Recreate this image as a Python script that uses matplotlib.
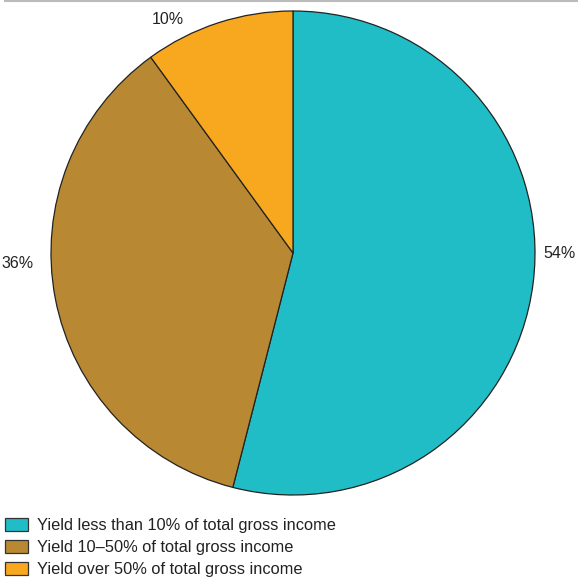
import matplotlib.pyplot as plt
from matplotlib.patches import Patch
from matplotlib.lines import Line2D

plt.rcParams['font.family'] = ['Liberation Sans', 'DejaVu Sans']

shares = [54, 36, 10]
pct_labels = ['54%', '36%', '10%']
legend_labels = ['Yield less than 10% of total gross income',
                 'Yield 10\u201350% of total gross income',
                 'Yield over 50% of total gross income']
colors = ['#21BDC6', '#B98833', '#F8A81E']

W, H = 578, 583
fig = plt.figure(figsize=(W / 100, H / 100), dpi=100)
ax = fig.add_axes([0, 0, 1, 1])

cx, cy, r = 293, H - 253, 242
wedges, _ = ax.pie(shares, colors=colors, startangle=90, counterclock=False,
                   center=(cx, cy), radius=r, frame=True,
                   wedgeprops=dict(edgecolor='#222222', linewidth=0.9))
ax.set_xlim(0, W)
ax.set_ylim(0, H)
ax.set_aspect('auto')
ax.axis('off')

# percentage labels placed around the pie
label_pos = [(559, H - 253), (18, H - 263), (168, H - 20)]
for txt, (x, y) in zip(pct_labels, label_pos):
    ax.text(x, y, txt, ha='center', va='center', fontsize=11.5, color='#222222')

# thin rule along the top
ax.add_line(Line2D([5, W], [H - 1, H - 1], color='#BBBBBB', lw=1.5))

handles = [Patch(facecolor=c, edgecolor='#333333', linewidth=0.9) for c in colors]
fig.legend(handles, legend_labels, loc='upper left', bbox_to_anchor=(0.0, 1 - 513 / H),
           frameon=False, fontsize=11.8, handlelength=1.42, handleheight=0.86,
           handletextpad=0.55, labelspacing=0.42, borderaxespad=0, borderpad=0.3,
           labelcolor='#222222')

fig.savefig('out.png', dpi=100)
